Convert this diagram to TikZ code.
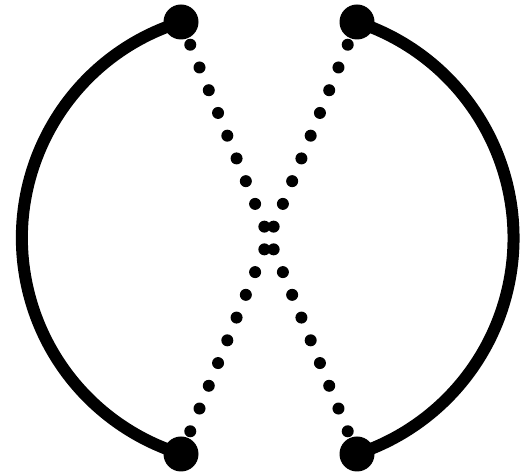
\documentclass[tikz,border=0pt]{standalone}
\usetikzlibrary{backgrounds}
\begin{document}
\begin{tikzpicture}[x=1pt,y=1pt,
  blob/.style={circle,fill=black,inner sep=0pt,minimum size=35pt},
  solidarc/.style={line width=12pt,black},
  dotline/.style={line width=12pt,line cap=round,dash pattern=on 0pt off 24.552pt,black}]
\useasboundingbox (0,0) rectangle (520,476);
\node[blob] (tl) at (181,454) {};
\node[blob] (tr) at (357,454) {};
\node[blob] (bl) at (181,22) {};
\node[blob] (br) at (357,22) {};
\begin{scope}[on background layer]
\draw[solidarc] (tl.center) arc[start angle=107.25, end angle=252.75, radius=226.15];
\draw[solidarc] (tr.center) arc[start angle=71.85, end angle=-71.85, radius=227.3];
\draw[dotline] (tl.center) -- (br.center);
\draw[dotline] (tr.center) -- (bl.center);
\end{scope}
\end{tikzpicture}
\end{document}
